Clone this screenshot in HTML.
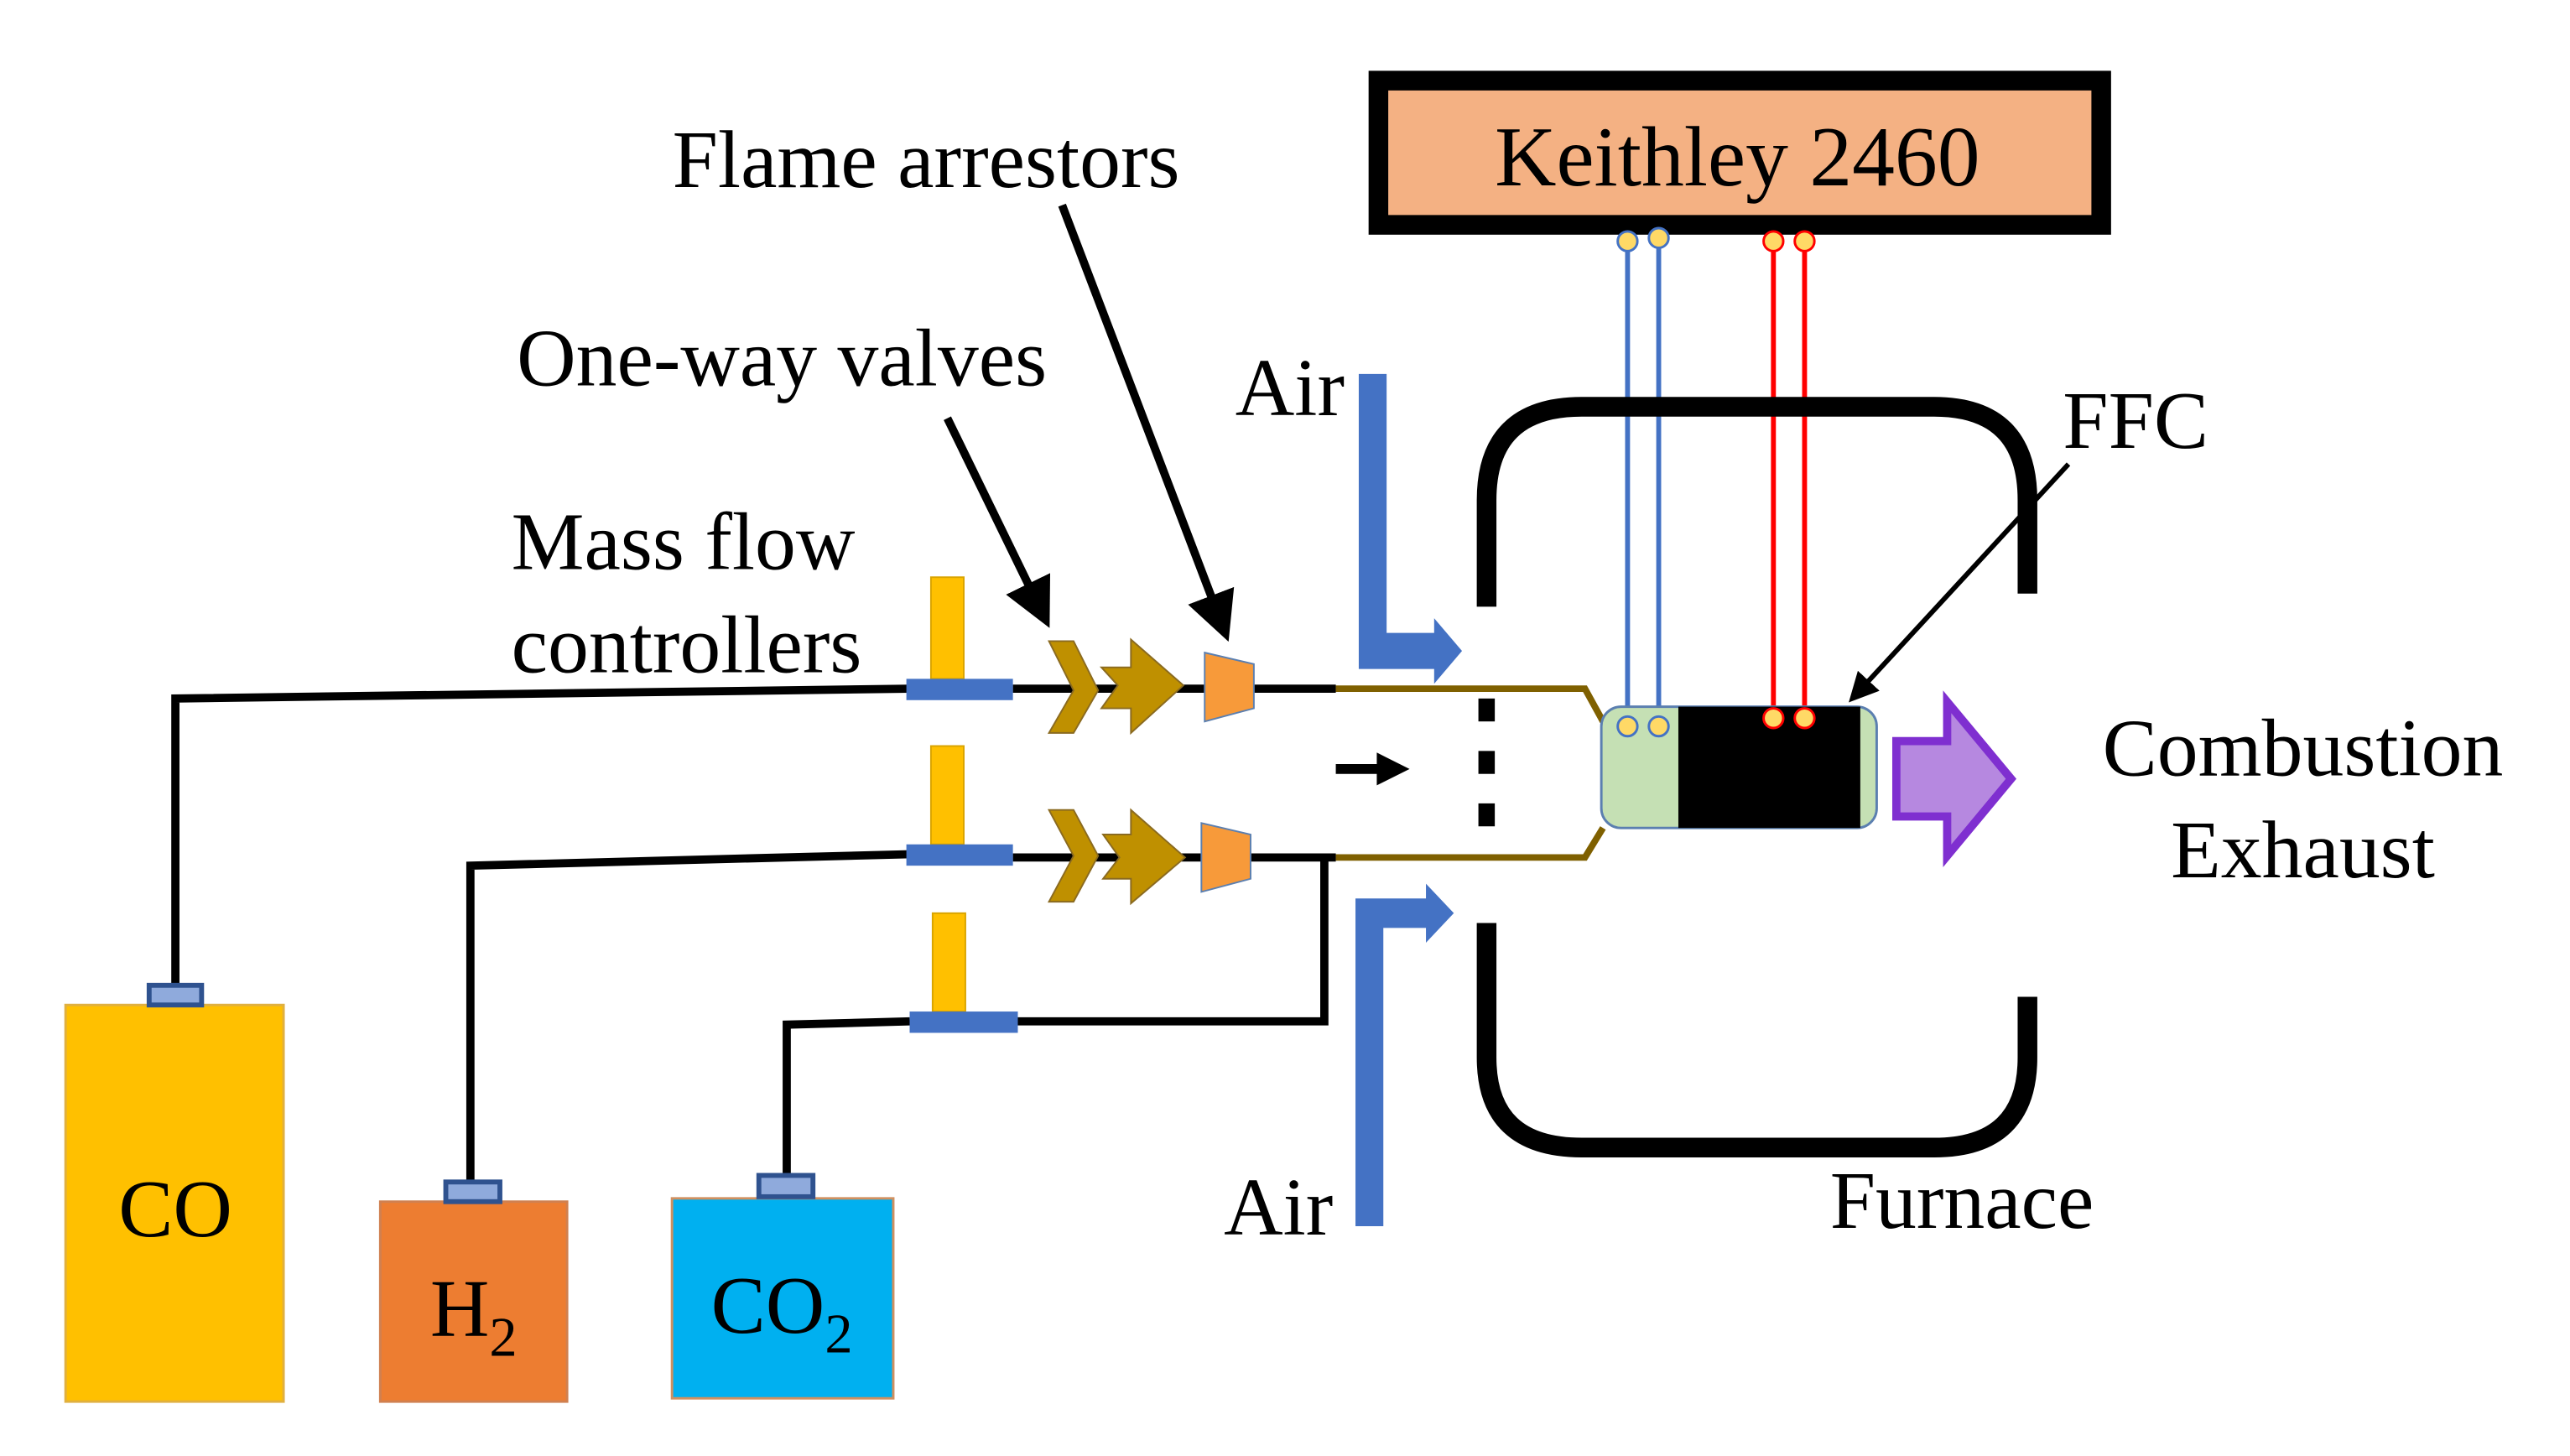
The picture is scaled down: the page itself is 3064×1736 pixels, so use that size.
<!DOCTYPE html>
<html><head><meta charset="utf-8"><style>
html,body{margin:0;padding:0;background:#fff;}
svg{display:block;}
text{font-family:"Liberation Serif",serif;fill:#000;}
</style></head><body>
<svg width="3064" height="1736" viewBox="0 0 1568 888" xmlns="http://www.w3.org/2000/svg">
<defs>
<marker id="ah" markerWidth="6" markerHeight="6" refX="4" refY="3" orient="auto" markerUnits="strokeWidth"><path d="M0,0 L6,3 L0,6 z" fill="#000"/></marker>
</defs>
<rect width="1568" height="888" fill="#fff"/>
<!-- Keithley -->
<rect x="841" y="49" width="441" height="88" fill="#F4B183" stroke="#000" stroke-width="12"/>
<text x="1060" y="113" font-size="52" text-anchor="middle">Keithley 2460</text>
<!-- wires -->
<g stroke-width="3" fill="none">
<line x1="993" y1="147" x2="993" y2="443" stroke="#4472C4"/>
<line x1="1012" y1="145" x2="1012" y2="443" stroke="#4472C4"/>
<line x1="1082" y1="147" x2="1082" y2="438" stroke="#FF0000"/>
<line x1="1101" y1="147" x2="1101" y2="438" stroke="#FF0000"/>
</g>
<!-- furnace -->
<path d="M907,370 V305 Q907,248 965,248 H1180 Q1237,248 1237,305 V362" fill="none" stroke="#000" stroke-width="12"/>
<path d="M907,563 V645 Q907,700 965,700 H1180 Q1237,700 1237,645 V608" fill="none" stroke="#000" stroke-width="12"/>
<rect x="902" y="426" width="10" height="14" fill="#000"/>
<rect x="902" y="458" width="10" height="14" fill="#000"/>
<rect x="902" y="490" width="10" height="14" fill="#000"/>
<text x="1197" y="749" font-size="50" text-anchor="middle">Furnace</text>
<!-- tubes -->
<path d="M815,420 H967 L978,440" fill="none" stroke="#7F6000" stroke-width="4"/>
<path d="M815,523 H967 L978,505" fill="none" stroke="#7F6000" stroke-width="4"/>
<path d="M815,466 H840 V459 L860,469 L840,479 V472 H815 z" fill="#000"/>
<!-- FFC -->
<rect x="977" y="431" width="168" height="74" rx="12" fill="#C5E0B4" stroke="#5B7FB0" stroke-width="1.5"/>
<rect x="1024" y="431" width="111" height="74" fill="#000"/>
<g stroke-width="1.5">
<circle cx="993" cy="147" r="6" fill="#FFD966" stroke="#4472C4"/>
<circle cx="1012" cy="145" r="6" fill="#FFD966" stroke="#4472C4"/>
<circle cx="1082" cy="147" r="6" fill="#FFD966" stroke="#FF0000"/>
<circle cx="1101" cy="147" r="6" fill="#FFD966" stroke="#FF0000"/>
<circle cx="993" cy="443" r="6" fill="#FFD966" stroke="#4472C4"/>
<circle cx="1012" cy="443" r="6" fill="#FFD966" stroke="#4472C4"/>
<circle cx="1082" cy="438" r="6" fill="#FFD966" stroke="#FF0000"/>
<circle cx="1101" cy="438" r="6" fill="#FFD966" stroke="#FF0000"/>
</g>
<text x="1303" y="273" font-size="50" text-anchor="middle">FFC</text>
<line x1="1262" y1="283" x2="1132" y2="424" stroke="#000" stroke-width="3" marker-end="url(#ah)"/>
<!-- purple arrow -->
<path d="M1157,452 H1188 V428 L1227,475 L1188,522 V498 H1157 z" fill="#B688E0" stroke="#7F2FD0" stroke-width="5"/>
<text x="1405" y="473" font-size="50" text-anchor="middle">Combustion</text>
<text x="1405" y="535" font-size="50" text-anchor="middle">Exhaust</text>
<!-- Air -->
<path d="M829,228 H846 V386 H875 V377 L892,397 L875,417 V408 H829 z" fill="#4472C4"/>
<text x="787" y="253" font-size="50" text-anchor="middle">Air</text>
<path d="M827,748 H844 V566 H870 V575 L887,557 L870,539 V548 H827 z" fill="#4472C4"/>
<text x="780" y="753" font-size="50" text-anchor="middle">Air</text>
<!-- gas lines -->
<g stroke="#000" stroke-width="5" fill="none">
<path d="M107,605 V426 L555,420"/>
<line x1="618" y1="420" x2="815" y2="420"/>
<path d="M287,722 V528 L555,521"/>
<line x1="618" y1="523" x2="815" y2="523"/>
<path d="M480,718 V625 L555,623"/>
<path d="M620,623 H808 V523"/>
</g>
<!-- MFCs -->
<g fill="#FFC000" stroke="#D9A400" stroke-width="1">
<rect x="568" y="352" width="20" height="62"/>
<rect x="568" y="455" width="20" height="60"/>
<rect x="569" y="557" width="20" height="60"/>
</g>
<g fill="#4472C4">
<rect x="553" y="414" width="65" height="13"/>
<rect x="553" y="515" width="65" height="13"/>
<rect x="555" y="617" width="66" height="13"/>
</g>
<!-- valves -->
<g fill="#BF9000" stroke="#8A6A20" stroke-width="1">
<path d="M640,391 H655 L670,421 L655,447 H640 L655,421 z"/>
<path d="M672,407 H690 V390 L722,418 L690,447 V432 H672 L682,418 z"/>
<path d="M640,494 H655 L670,522 L655,550 H640 L655,522 z"/>
<path d="M673,509 H690 V494 L723,523 L690,551 V536 H673 L683,523 z"/>
</g>
<g fill="#F79A3A" stroke="#5B7FB0" stroke-width="1">
<path d="M735,398 L765,405 V432 L735,440 z"/>
<path d="M733,502 L763,509 V536 L733,544 z"/>
</g>
<!-- labels -->
<text x="565" y="114" font-size="50" text-anchor="middle">Flame arrestors</text>
<text x="477" y="235" font-size="50" text-anchor="middle">One-way valves</text>
<text x="312" y="347" font-size="50">Mass flow</text>
<text x="312" y="410" font-size="50">controllers</text>
<line x1="578" y1="255" x2="636" y2="374" stroke="#000" stroke-width="5" marker-end="url(#ah)"/>
<line x1="648" y1="125" x2="746" y2="382" stroke="#000" stroke-width="5" marker-end="url(#ah)"/>
<!-- tanks -->
<rect x="40" y="613" width="133" height="242" fill="#FFC000" stroke="#E0B040" stroke-width="1.5"/>
<rect x="91" y="601" width="32" height="12" fill="#8FAADC" stroke="#2F528F" stroke-width="3"/>
<text x="107" y="754" font-size="50" text-anchor="middle">CO</text>
<rect x="232" y="733" width="114" height="122" fill="#ED7D31" stroke="#D08050" stroke-width="1.5"/>
<rect x="272" y="721" width="33" height="12" fill="#8FAADC" stroke="#2F528F" stroke-width="3"/>
<text x="289" y="815" font-size="50" text-anchor="middle">H<tspan font-size="34" dy="12">2</tspan></text>
<rect x="410" y="731" width="135" height="122" fill="#00B0F0" stroke="#D09060" stroke-width="1.5"/>
<rect x="463" y="717" width="33" height="13" fill="#8FAADC" stroke="#2F528F" stroke-width="3"/>
<text x="477" y="813" font-size="50" text-anchor="middle">CO<tspan font-size="34" dy="12">2</tspan></text>
</svg>
</body></html>
